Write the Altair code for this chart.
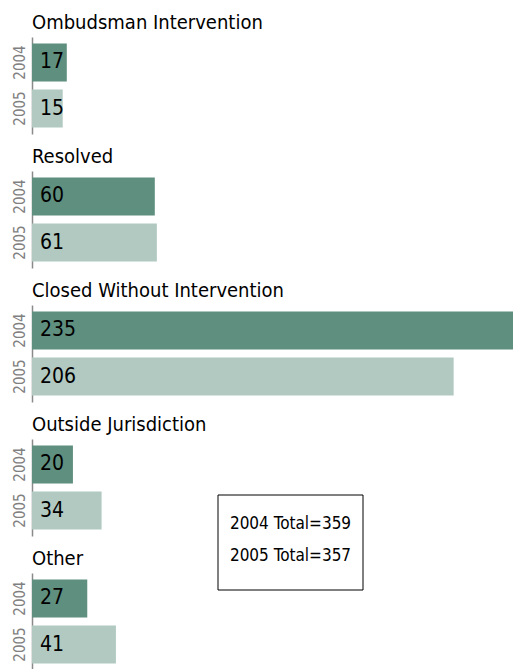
import altair as alt
import pandas as pd

categories = ["Ombudsman Intervention", "Resolved", "Closed Without Intervention",
              "Outside Jurisdiction", "Other"]
years = ["2004", "2005"]
values_2004 = [17, 60, 235, 20, 27]
values_2005 = [15, 61, 206, 34, 41]
total_years = ["2004", "2005"]
totals = [359, 357]

FONT = "DejaVu Sans Condensed, sans-serif"
colors = ["#5f8f7e", "#b1c9c0"]

rows = []
for c, a, b in zip(categories, values_2004, values_2005):
    rows.append({"category": c, "year": years[0], "count": a})
    rows.append({"category": c, "year": years[1], "count": b})
df = pd.DataFrame(rows)

total_lines = [f"{y} Total={t}" for y, t in zip(total_years, totals)]

x_scale = alt.Scale(domain=[0, max(values_2004 + values_2005)], nice=False, zero=True)
y_scale = alt.Scale(domain=years, paddingInner=0.174, paddingOuter=0.141)

panels = []
for c in categories:
    base = alt.Chart(df[df["category"] == c])
    bars = base.mark_bar().encode(
        x=alt.X("count:Q", scale=x_scale, axis=None),
        y=alt.Y("year:N", scale=y_scale,
                axis=alt.Axis(title=None, labelAngle=-90, labelAlign="center",
                              labelBaseline="bottom", labelPadding=5, ticks=False,
                              domainColor="#8a8a8a", domainWidth=1.5,
                              labelColor="#808080", labelFontSize=15, labelFont=FONT,
                              minExtent=24, maxExtent=24)),
        color=alt.Color("year:N", scale=alt.Scale(domain=years, range=colors), legend=None),
    )
    labels = base.mark_text(align="left", baseline="middle", dx=8, fontSize=21,
                            font=FONT, color="black").encode(
        x=alt.datum(0),
        y=alt.Y("year:N", scale=y_scale),
        text="count:Q",
    )
    layers = [bars, labels]
    if c == "Outside Jurisdiction":
        box = alt.Chart(pd.DataFrame({"k": [0]})).mark_rect(
            fill="white", stroke="black", strokeWidth=1).encode(
            x=alt.value(186), x2=alt.value(331), y=alt.value(56), y2=alt.value(151))
        box_text = alt.Chart(pd.DataFrame({"k": [0]})).mark_text(
            fontSize=17, font=FONT, color="black", align="center", baseline="middle",
            lineHeight=32).encode(
            x=alt.value(258.5), y=alt.value(85), text=alt.value(total_lines))
        layers += [box, box_text]
    panel = alt.layer(*layers).properties(
        width=481, height=97,
        title=alt.TitleParams(c, anchor="start", frame="group", fontSize=20,
                              font=FONT, fontWeight="normal", color="black",
                              baseline="alphabetic", offset=-12),
    )
    panels.append(panel)

chart = alt.vconcat(*panels, spacing=37, bounds="flush").resolve_scale(x="shared").configure(
    padding={"top": 5, "left": 0, "right": 0, "bottom": 0}).configure_view(stroke=None)

chart.save("out.html", embed_options={"renderer": "svg", "actions": False})
